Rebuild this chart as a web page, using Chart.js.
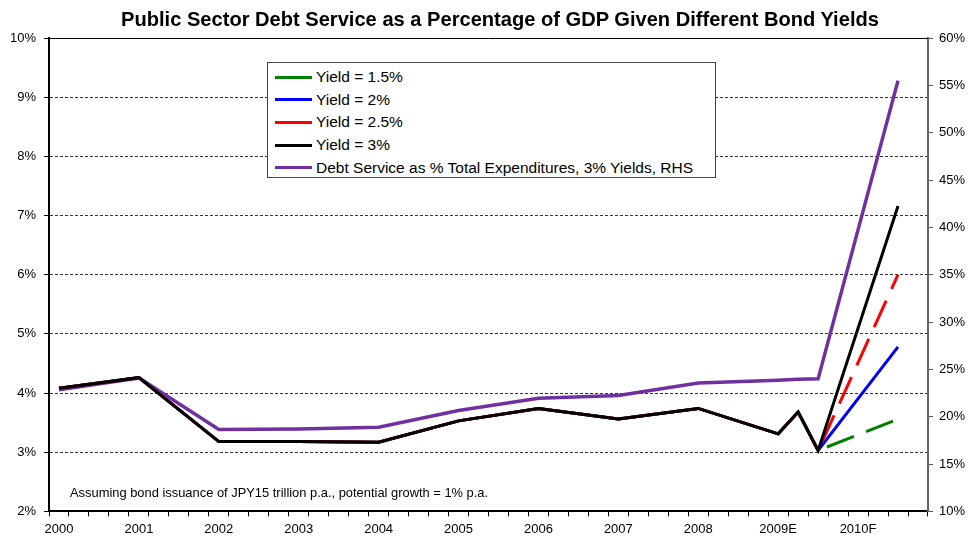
<!DOCTYPE html>
<html>
<head>
<meta charset="utf-8">
<title>Public Sector Debt Service as a Percentage of GDP</title>
<script src="https://cdn.jsdelivr.net/npm/chart.js@4.4.1/dist/chart.umd.min.js"></script>
<style>
    body { margin: 0; background: #fff; font-family: "Liberation Sans", Arial, sans-serif; color: #000; }
    #wrap { position: relative; width: 971px; height: 537px; }
    #title { position: absolute; left: 0; top: 8px; width: 1000px; text-align: center; font-weight: bold; font-size: 20.1px; }
    #legend { position: absolute; left: 267px; top: 62px; width: 447px; height: 114px; border: 1px solid #444; background: #fff; }
    .legend-row { position: absolute; left: 7px; height: 20px; display: flex; align-items: center; font-size: 15.5px; white-space: nowrap; }
    .legend-line { width: 37px; height: 3px; margin-right: 4px; }
    #note { position: absolute; left: 70px; top: 485px; font-size: 12.9px; white-space: nowrap; }
</style>
</head>
<body>
<div id="wrap">
    <canvas id="debt-chart"></canvas>
    <div id="title">Public Sector Debt Service as a Percentage of GDP Given Different Bond Yields</div>
    <div id="legend"></div>
    <div id="note">Assuming bond issuance of JPY15 trillion p.a., potential growth = 1% p.a.</div>
</div>
<script>
// fiscal years on the x axis, each split into quarters
const years = ['2000', '2001', '2002', '2003', '2004', '2005', '2006', '2007', '2008', '2009E', '2010F'];

// quarters where observations exist
const histQuarters = ['2000 Q1', '2001 Q1', '2002 Q1', '2003 Q1', '2004 Q1', '2005 Q1', '2006 Q1',
    '2007 Q1', '2008 Q1', '2009E Q1', '2009E Q2', '2009E Q3'];
const forecastQuarter = '2010F Q3';

// debt service, % of GDP (same history for every yield scenario)
const debtServiceGdp = [4.08, 4.26, 3.18, 3.18, 3.17, 3.53, 3.74, 3.56, 3.74, 3.31, 3.68, 3.03];

// 2010F projection by bond yield
const yieldLabels = ['Yield = 1.5%', 'Yield = 2%', 'Yield = 2.5%', 'Yield = 3%'];
const yieldForecast = [3.56, 4.78, 6.0, 7.16];

// debt service as % of total expenditures, 3% yields (RHS)
const expQuarters = ['2000 Q1', '2001 Q1', '2002 Q1', '2003 Q1', '2004 Q1', '2005 Q1', '2006 Q1',
    '2007 Q1', '2008 Q1', '2009E Q1', '2009E Q2', '2009E Q3', '2010F Q3'];
const debtServiceExp = [22.85, 24.1, 18.66, 18.7, 18.9, 20.66, 21.96, 22.25, 23.55, 23.85, 23.95, 24.0, 55.5];
const expLabel = 'Debt Service as % Total Expenditures, 3% Yields, RHS';

const quarters = [];
years.forEach(y => {
    for (let q = 1; q <= 4; q++) quarters.push(y + ' Q' + q);
});

function toPoints(xs, ys) {
    return xs.map((x, i) => ({ x: x, y: ys[i] }));
}

const yieldColors = ['#008000', '#0000ff', '#ff0000', '#000000'];
const yieldDashed = [true, false, true, false];
const lastIdx = histQuarters.length; // index of the forecast point

const datasets = yieldLabels.map((label, i) => ({
    label: label,
    data: toPoints(histQuarters.concat([forecastQuarter]), debtServiceGdp.concat([yieldForecast[i]])),
    borderColor: yieldColors[i],
    borderWidth: 3,
    yAxisID: 'y',
    order: 3 - i,
    segment: {
        borderDash: ctx => (yieldDashed[i] && ctx.p1DataIndex === lastIdx) ? [29, 13] : undefined,
        borderDashOffset: ctx => (yieldDashed[i] && ctx.p1DataIndex === lastIdx) ? 32.5 : undefined
    }
}));

datasets.push({
    label: expLabel,
    data: toPoints(expQuarters, debtServiceExp),
    borderColor: '#7030a0',
    borderWidth: 3.5,
    yAxisID: 'y1',
    order: 4
});

// thin frame line along the top of the plot area
const topFrame = {
    id: 'topFrame',
    afterDraw(chart) {
        const { ctx, chartArea } = chart;
        ctx.save();
        ctx.strokeStyle = '#000';
        ctx.lineWidth = 1;
        ctx.beginPath();
        ctx.moveTo(chartArea.left, chartArea.top + 0.5);
        ctx.lineTo(chartArea.right, chartArea.top + 0.5);
        ctx.stroke();
        ctx.restore();
    }
};

Chart.defaults.font.family = '"Liberation Sans", Arial, sans-serif';
Chart.defaults.font.size = 13;
Chart.defaults.color = '#000';

const chart = new Chart(document.getElementById('debt-chart').getContext('2d'), {
    type: 'line',
    data: { labels: quarters, datasets: datasets },
    options: {
        responsive: true,
        maintainAspectRatio: false,
        animation: false,
        layout: { padding: { top: 38, left: 2, right: 0, bottom: -5 } },
        elements: { point: { radius: 0 }, line: { tension: 0, borderCapStyle: 'butt' } },
        plugins: {
            legend: { display: false },
            title: { display: false },
            tooltip: { enabled: false }
        },
        scales: {
            x: {
                type: 'category',
                offset: true,
                grid: { offset: true, drawOnChartArea: false, tickLength: 5, color: '#000' },
                border: { color: '#000', width: 2 },
                ticks: {
                    autoSkip: false,
                    maxRotation: 0,
                    padding: 5,
                    callback: (v, i) => i % 4 === 0 ? years[i / 4] : ''
                }
            },
            y: {
                position: 'left',
                min: 2,
                max: 10,
                ticks: { stepSize: 1, padding: 8, callback: v => v + '%' },
                grid: {
                    color: ctx => (ctx.tick && ctx.tick.value > 2 && ctx.tick.value < 10) ? '#333' : 'rgba(0,0,0,0)',
                    tickColor: '#000',
                    tickLength: 5
                },
                border: { color: '#000', width: 2, dash: [3, 2] }
            },
            y1: {
                position: 'right',
                min: 10,
                max: 60,
                ticks: { stepSize: 5, padding: 6, callback: v => v + '%' },
                grid: { drawOnChartArea: false, tickLength: 5, color: '#555' },
                border: { color: '#666', width: 2 }
            }
        }
    },
    plugins: [topFrame]
});

// legend box
const legend = document.getElementById('legend');
chart.data.datasets.forEach((ds, i) => {
    const row = document.createElement('div');
    row.classList.add('legend-row');
    row.style.top = (4 + i * 22.7) + 'px';
    row.innerHTML = `<span class="legend-line" style="background:${ds.borderColor}"></span><span>${ds.label}</span>`;
    legend.appendChild(row);
});
</script>
</body>
</html>
